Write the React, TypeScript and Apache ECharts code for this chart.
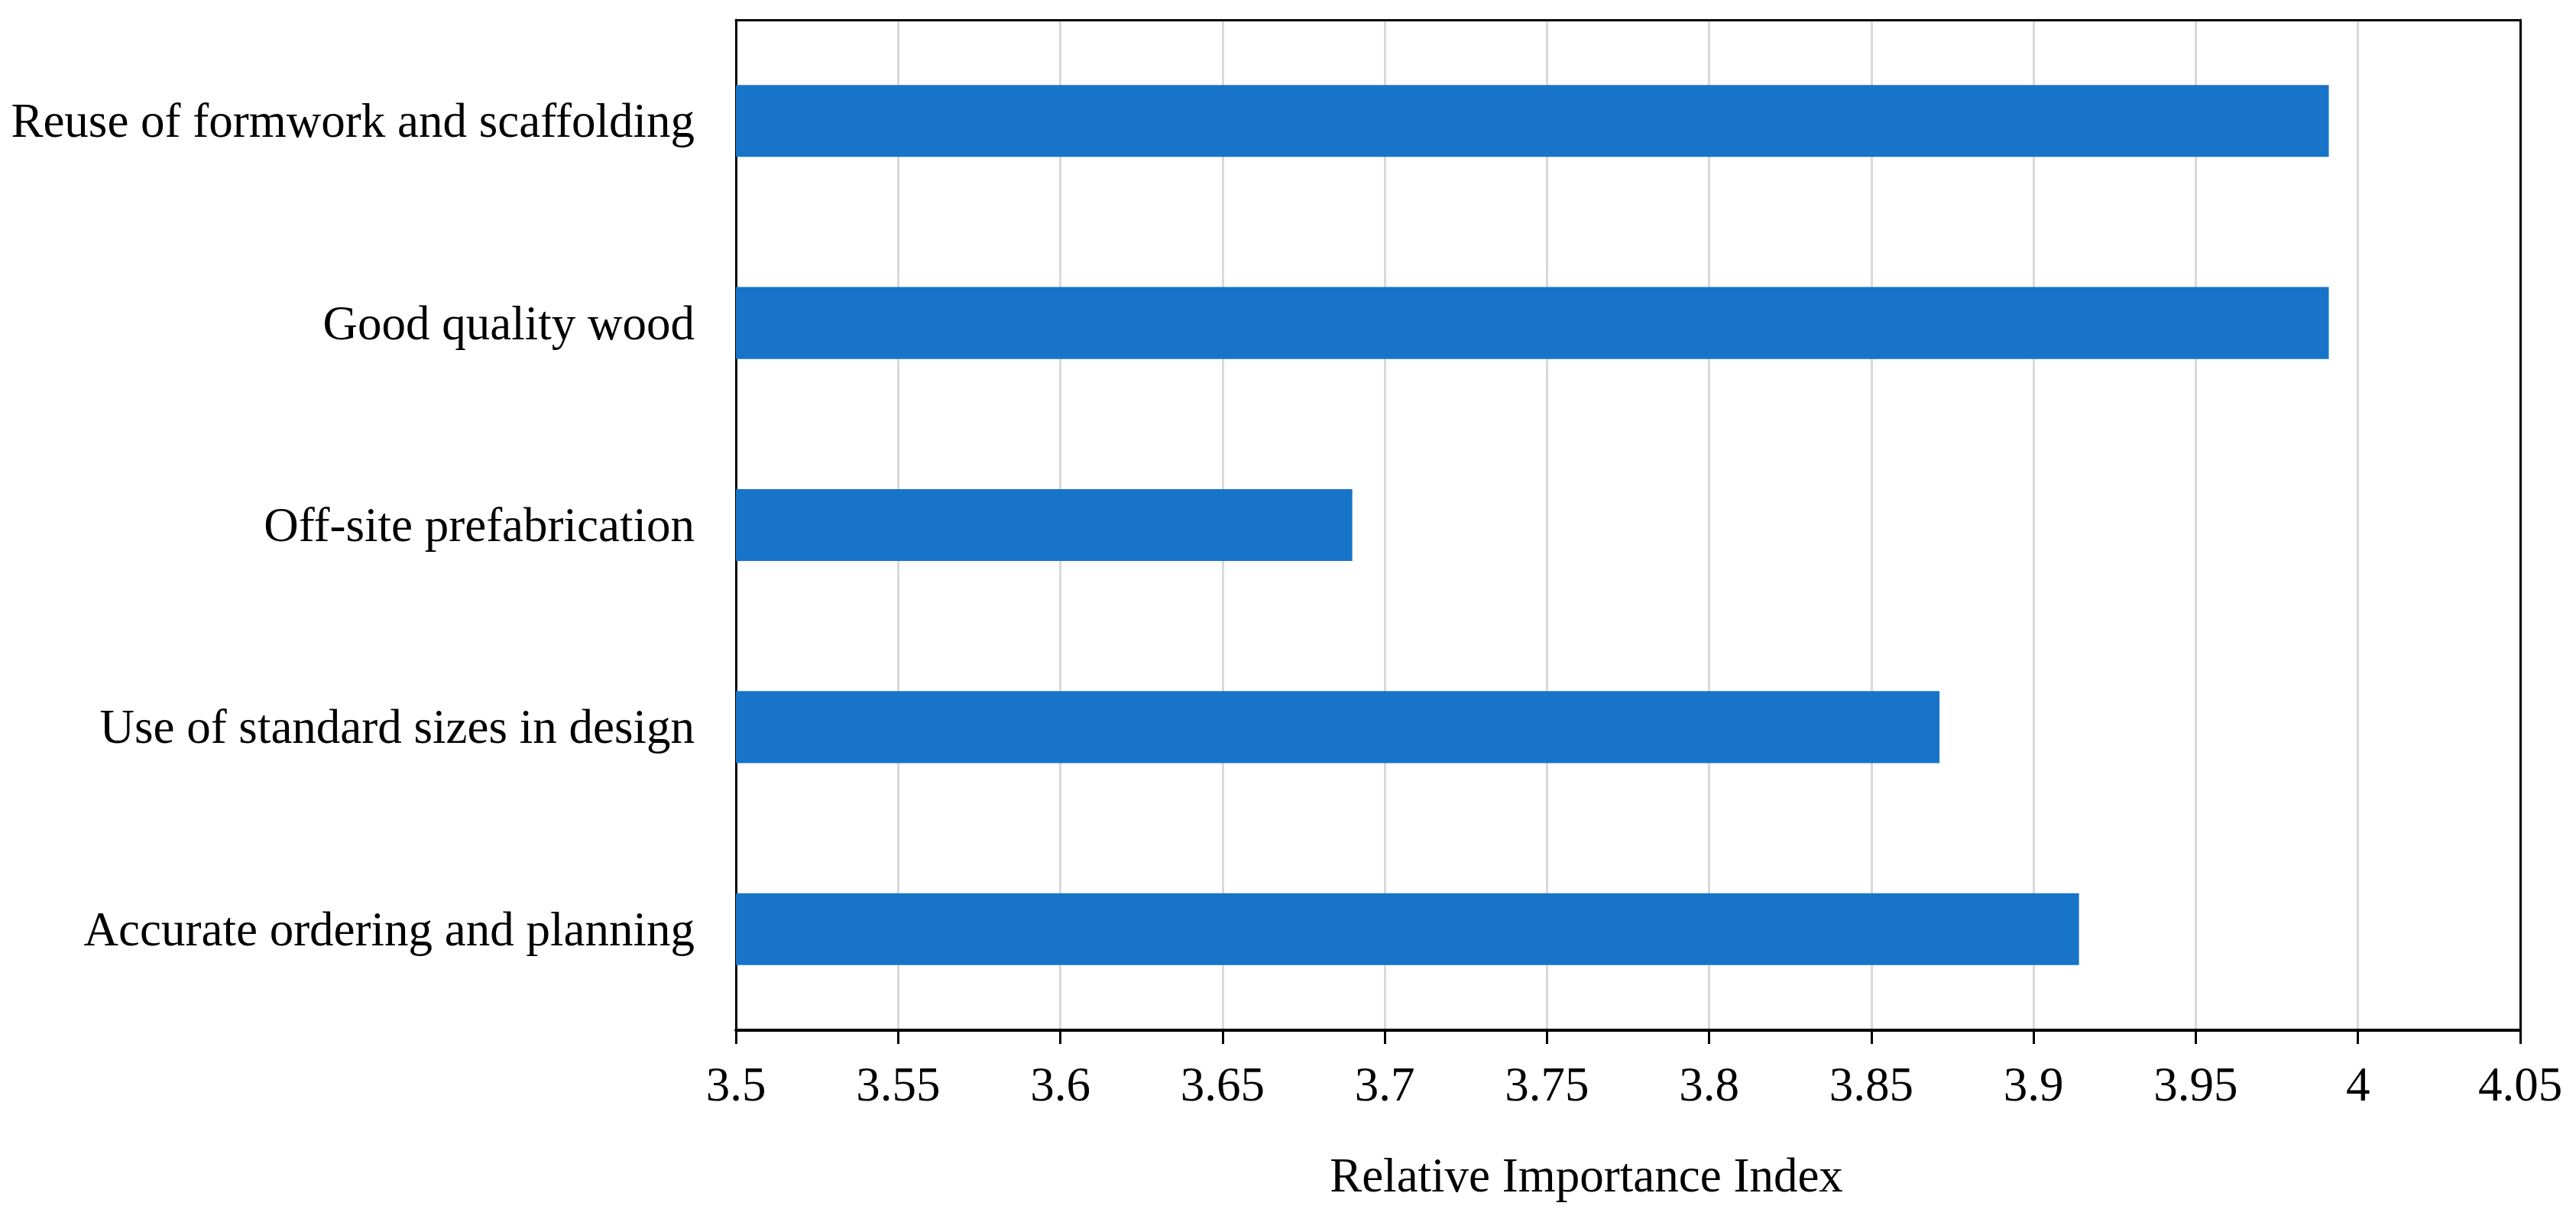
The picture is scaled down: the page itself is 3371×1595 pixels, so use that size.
import React, { useEffect, useRef } from "react";
import * as echarts from "echarts";

const categories = [
  "Reuse of formwork and scaffolding",
  "Good quality wood",
  "Off-site prefabrication",
  "Use of standard sizes in design",
  "Accurate ordering and planning",
];
const values = [3.991, 3.991, 3.69, 3.871, 3.914];
const axisMin = 3.5;
const axisMax = 4.05;
const axisStep = 0.05;
const axisTitle = "Relative Importance Index";

const FONT = "'Liberation Serif', 'Times New Roman', serif";

export default function App() {
  const ref = useRef<HTMLDivElement>(null);
  useEffect(() => {
    if (!ref.current) return;
    const chart = echarts.init(ref.current, null, { renderer: "svg" });
    chart.setOption({
      animation: false,
      backgroundColor: "#ffffff",
      grid: {
        left: 963,
        right: 73,
        top: 26,
        bottom: 247,
        show: false,
      },
      xAxis: [
        {
          type: "value",
          min: axisMin,
          max: axisMax,
          interval: axisStep,
          axisLine: { show: true, lineStyle: { color: "#000", width: 4 } },
          axisTick: { show: true, length: 18, lineStyle: { color: "#000", width: 3 } },
          axisLabel: {
            color: "#000",
            fontFamily: FONT,
            fontSize: 63,
            margin: 39,
            formatter: (v: number) => String(+v.toFixed(2)),
          },
          splitLine: {
            show: true,
            showMinLine: false,
            showMaxLine: false,
            lineStyle: { color: "#d9d9d9", width: 3 },
          },
        },
        {
          type: "value",
          position: "top",
          min: axisMin,
          max: axisMax,
          interval: axisStep,
          axisLine: { show: true, onZero: false, lineStyle: { color: "#000", width: 3 } },
          axisTick: { show: false },
          axisLabel: { show: false },
          splitLine: { show: false },
        },
      ],
      yAxis: [
        {
          type: "category",
          data: categories,
          inverse: true,
          axisLine: { show: true, lineStyle: { color: "#000", width: 3 } },
          axisTick: { show: false },
          axisLabel: {
            color: "#000",
            fontFamily: FONT,
            fontSize: 63,
            margin: 54,
          },
          splitLine: { show: false },
        },
        {
          type: "category",
          data: categories,
          inverse: true,
          position: "right",
          axisLine: { show: true, onZero: false, lineStyle: { color: "#000", width: 3 } },
          axisTick: { show: false },
          axisLabel: { show: false },
          splitLine: { show: false },
        },
      ],
      series: [
        {
          type: "bar",
          xAxisIndex: 0,
          yAxisIndex: 0,
          data: values,
          barWidth: "35.6%",
          itemStyle: { color: "#1874c8" },
        },
      ],
      graphic: [
        {
          type: "text",
          x: 2076,
          y: 1538,
          style: {
            text: axisTitle,
            fill: "#000",
            font: `63px ${FONT}`,
            textAlign: "center",
            textVerticalAlign: "middle",
          },
        },
      ],
    });
    return () => chart.dispose();
  }, []);
  return (
    <div
      ref={ref}
      style={{ position: "absolute", left: 0, top: 0, width: 3371, height: 1595 }}
    />
  );
}
